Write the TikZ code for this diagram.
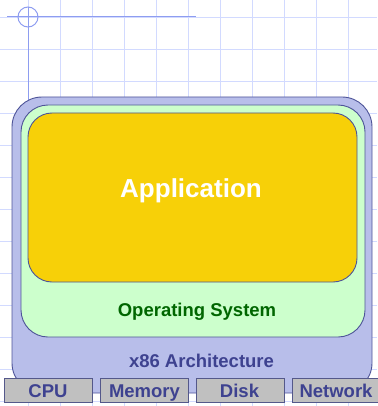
\documentclass[tikz,border=0pt]{standalone}
\usepackage{fontspec}
\setmainfont{Liberation Sans}
\begin{document}
\begin{tikzpicture}[x=1pt,y=-1pt,
  gridline/.style={draw=gridblue,line width=0.9pt},
  axisline/.style={draw=axisblue,line width=1pt},
  layer/.style={draw=borderblue,line width=0.9pt,rounded corners=#1,inner sep=0pt},
  lbl/.style={font=\bfseries\fontsize{18.5}{20}\selectfont,inner sep=0pt,anchor=base},
  hw/.style={draw=hwborder,fill=hwgray,line width=0.8pt,minimum width=88pt,minimum height=24pt,inner sep=0pt}
]
\definecolor{gridblue}{HTML}{D2DAFF}
\definecolor{axisblue}{HTML}{8E9DF0}
\definecolor{borderblue}{HTML}{4E5498}
\definecolor{archfill}{HTML}{B8BEEA}
\definecolor{osfill}{HTML}{CCFFCC}
\definecolor{appfill}{HTML}{F7D008}
\definecolor{hwgray}{HTML}{C0C0C0}
\definecolor{hwborder}{HTML}{54588A}
\definecolor{textblue}{HTML}{3E4290}
\definecolor{osgreen}{HTML}{006600}
\useasboundingbox (0,0) rectangle (377,406);
% grid
\foreach \i in {0,...,10} \draw[gridline] (28+32*\i,0) -- (28+32*\i,406);
\foreach \j in {0,...,12} \draw[gridline] (0,17+32*\j) -- (377,17+32*\j);
% axes
\coordinate (o) at (28,17);
\coordinate (xa) at (7,17);
\coordinate (xb) at (196,17);
\coordinate (ya) at (28,7);
\coordinate (yb) at (28,110);
\draw[axisline] (xa) -- (xb);
\draw[axisline] (ya) -- (yb);
\draw[axisline] (o) circle[radius=10];
% layers
\node[layer=30pt,fill=archfill,minimum width=360pt,minimum height=296pt] (arch) at (192,245) {};
\node[layer=27pt,fill=osfill,minimum width=344pt,minimum height=232pt] (os) at (193,221) {};
\node[layer=24pt,fill=appfill,minimum width=329pt,minimum height=169pt] (app) at (192.5,197.5) {};
% labels
\node[lbl,text=white,font=\bfseries\fontsize{26}{28}\selectfont] (applbl) at (191,197) {Application};
\node[lbl,text=osgreen] (oslbl) at (197,316) {Operating System};
\node[lbl,text=textblue] (archlbl) at (201.5,367) {x86 Architecture};
% hardware
\node[hw] (cpu) at (48,390) {};
\node[hw] (mem) at (144,390) {};
\node[hw] (disk) at (240,390) {};
\node[hw] (net) at (336,390) {};
\node[lbl,text=textblue] at (48,397) {CPU};
\node[lbl,text=textblue] at (144.5,397) {Memory};
\node[lbl,text=textblue] at (239.5,397) {Disk};
\node[lbl,text=textblue] at (336,397) {Network};
\end{tikzpicture}
\end{document}
